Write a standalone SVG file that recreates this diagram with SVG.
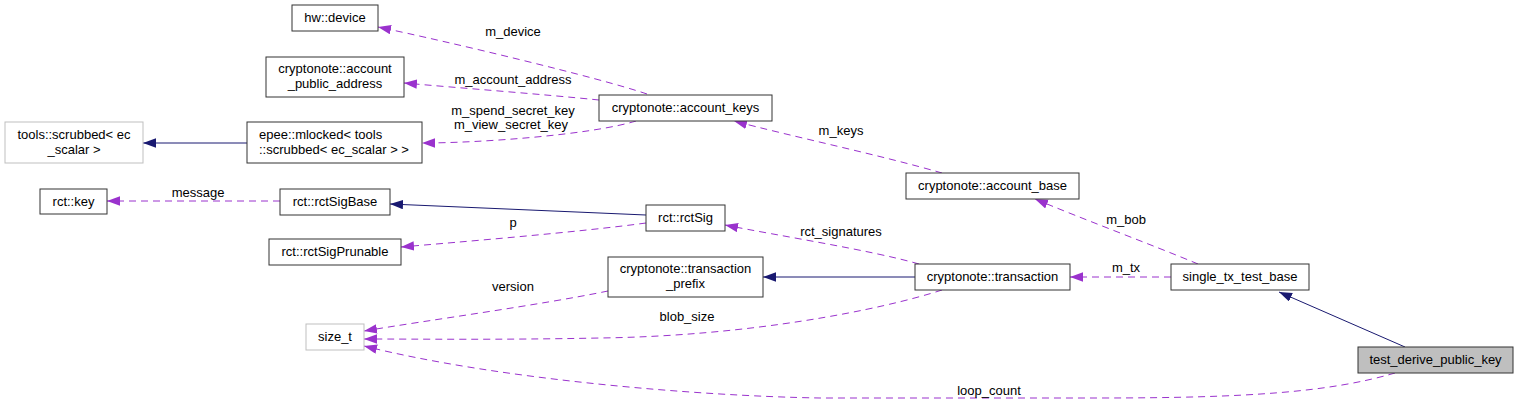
<svg xmlns="http://www.w3.org/2000/svg" width="1519" height="404" viewBox="0 0 1519 404">
<style>
.n rect{fill:#fff;stroke:#333;stroke-width:1}
.n.ext rect{stroke:#bfbfbf}
.n.cur rect{fill:#bfbfbf}
text{font-family:"Liberation Sans",Arial,sans-serif;font-size:13px;fill:#000}
.n text{text-anchor:middle}
.e{fill:none;stroke-width:1}
.u{stroke:#9a32cd;stroke-dasharray:7,5;marker-end:url(#ap)}
.i{stroke:#191970;marker-end:url(#an)}
.l{text-anchor:middle}
</style>
<defs>
<marker id="ap" markerUnits="userSpaceOnUse" markerWidth="14" markerHeight="10" refX="13" refY="4.7" orient="auto"><path d="M0,0 L13,4.7 L0,9.4 z" fill="#9a32cd"/></marker>
<marker id="an" markerUnits="userSpaceOnUse" markerWidth="14" markerHeight="10" refX="13" refY="4.7" orient="auto"><path d="M0,0 L13,4.7 L0,9.4 z" fill="#191970"/></marker>
</defs>
<rect width="1519" height="404" fill="#fff"/>
<g id="edges">
<path class="e u" d="M647,94 C600,78 450,42 378,27"/>
<path class="e u" d="M599,100 C540,94 460,88 404,83"/>
<path class="e u" d="M636,121 C590,135 480,143 422,143"/>
<path class="e u" d="M942,173 C880,155 790,136 734,121"/>
<path class="e u" d="M1198,264 C1150,244 1080,218 1035,199"/>
<path class="e u" d="M1171,277 L1070,277"/>
<path class="e u" d="M919,264 C870,250 780,236 725,225"/>
<path class="e i" d="M915,277 L763,277"/>
<path class="e u" d="M942,290 C880,310 750,336 600,338 C500,340 420,339 364,339"/>
<path class="e u" d="M608,291 C540,305 430,320 364,331"/>
<path class="e i" d="M646,215 L390,204"/>
<path class="e u" d="M646,223 C580,232 460,242 401,247"/>
<path class="e u" d="M280,201 L107,201"/>
<path class="e i" d="M247,143 L143,143"/>
<path class="e i" d="M1405,347 L1279,292"/>
<path class="e u" d="M1395,373 C1330,392 1250,398 1100,398 L820,398 C700,396 500,380 364,346"/>
<text class="l" x="513" y="36">m_device</text>
<text class="l" x="513" y="84">m_account_address</text>
<text class="l" x="513" y="115">m_spend_secret_key</text>
<text class="l" x="511" y="129">m_view_secret_key</text>
<text class="l" x="841" y="135">m_keys</text>
<text class="l" x="1126" y="224">m_bob</text>
<text class="l" x="841" y="236">rct_signatures</text>
<text class="l" x="1126" y="272">m_tx</text>
<text class="l" x="198" y="197">message</text>
<text class="l" x="513" y="227">p</text>
<text class="l" x="513" y="291">version</text>
<text class="l" x="687" y="321">blob_size</text>
<text class="l" x="989" y="395">loop_count</text>
</g>
<g id="hw_device" class="n"><rect x="292" y="5" width="86" height="26"/><text x="335" y="22">hw::device</text></g>
<g id="account_public_address" class="n"><rect x="266" y="57" width="138" height="40"/><text x="335" y="73">cryptonote::account</text><text x="335" y="88">_public_address</text></g>
<g id="tools_scrubbed" class="n ext"><rect x="5" y="122" width="138" height="41"/><text x="74" y="139">tools::scrubbed&lt; ec</text><text x="74" y="154">_scalar &gt;</text></g>
<g id="epee_mlocked" class="n"><rect x="247" y="122" width="175" height="41"/><text x="259" y="139" style="text-anchor:start">epee::mlocked&lt; tools</text><text x="259" y="154" style="text-anchor:start">::scrubbed&lt; ec_scalar &gt; &gt;</text></g>
<g id="account_keys" class="n"><rect x="599" y="95" width="173" height="26"/><text x="685.5" y="112">cryptonote::account_keys</text></g>
<g id="account_base" class="n"><rect x="906" y="173" width="173" height="26"/><text x="992.5" y="190">cryptonote::account_base</text></g>
<g id="rct_key" class="n"><rect x="40" y="189" width="67" height="25"/><text x="73.5" y="206">rct::key</text></g>
<g id="rctSigBase" class="n"><rect x="280" y="189" width="110" height="26"/><text x="335" y="206">rct::rctSigBase</text></g>
<g id="rctSigPrunable" class="n"><rect x="269" y="239" width="132" height="26"/><text x="335" y="256">rct::rctSigPrunable</text></g>
<g id="rctSig" class="n"><rect x="646" y="205" width="79" height="26"/><text x="685.5" y="222">rct::rctSig</text></g>
<g id="transaction_prefix" class="n"><rect x="608" y="257" width="155" height="40"/><text x="685.5" y="273">cryptonote::transaction</text><text x="685.5" y="288">_prefix</text></g>
<g id="transaction" class="n"><rect x="915" y="264" width="155" height="26"/><text x="992.5" y="281">cryptonote::transaction</text></g>
<g id="single_tx_test_base" class="n"><rect x="1171" y="264" width="138" height="26"/><text x="1240" y="281">single_tx_test_base</text></g>
<g id="size_t" class="n ext"><rect x="306" y="324" width="58" height="26"/><text x="335" y="341">size_t</text></g>
<g id="test_derive_public_key" class="n cur"><rect x="1358" y="347" width="155" height="26"/><text x="1435.5" y="364">test_derive_public_key</text></g>
</svg>
